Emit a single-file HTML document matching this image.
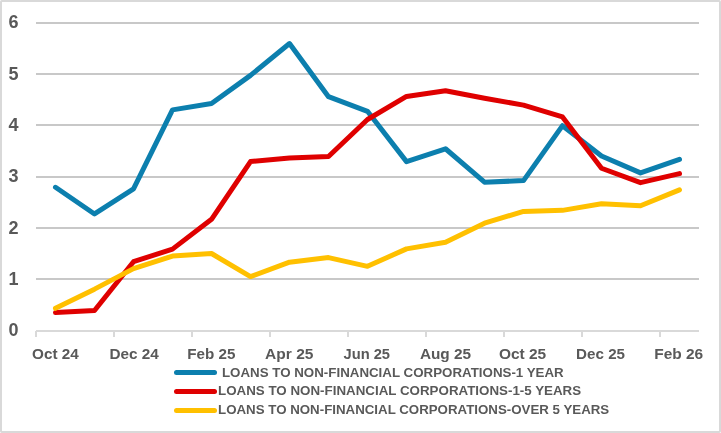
<!DOCTYPE html>
<html><head><meta charset="utf-8"><title>Loans to non-financial corporations</title>
<style>
html,body{margin:0;padding:0;background:#fff;}
body{width:721px;height:433px;overflow:hidden;}
svg{display:block;will-change:transform;}
text{font-family:"Liberation Sans",Arial,sans-serif;font-weight:bold;fill:#595959;}
.yl{font-size:18px;}
.xl{font-size:15.4px;}
.lg{font-size:12.6px;}
</style></head>
<body>
<svg width="721" height="433" viewBox="0 0 721 433">
<rect x="1" y="1" width="719" height="431" rx="0.8" fill="#fff" stroke="#d9d9d9" stroke-width="2"/>
<line x1="36.0" y1="279" x2="699.0" y2="279" stroke="#c8c8c8" stroke-width="2"/>
<line x1="36.0" y1="228" x2="699.0" y2="228" stroke="#c8c8c8" stroke-width="2"/>
<line x1="36.0" y1="177" x2="699.0" y2="177" stroke="#c8c8c8" stroke-width="2"/>
<line x1="36.0" y1="125" x2="699.0" y2="125" stroke="#c8c8c8" stroke-width="2"/>
<line x1="36.0" y1="74" x2="699.0" y2="74" stroke="#c8c8c8" stroke-width="2"/>
<line x1="36.0" y1="23" x2="699.0" y2="23" stroke="#c8c8c8" stroke-width="2"/>
<line x1="36.0" y1="331.0" x2="699.0" y2="331.0" stroke="#d9d9d9" stroke-width="2"/>
<line x1="36.00" y1="331.0" x2="36.00" y2="337.0" stroke="#d9d9d9" stroke-width="2"/>
<line x1="114.00" y1="331.0" x2="114.00" y2="337.0" stroke="#d9d9d9" stroke-width="2"/>
<line x1="192.00" y1="331.0" x2="192.00" y2="337.0" stroke="#d9d9d9" stroke-width="2"/>
<line x1="270.00" y1="331.0" x2="270.00" y2="337.0" stroke="#d9d9d9" stroke-width="2"/>
<line x1="348.00" y1="331.0" x2="348.00" y2="337.0" stroke="#d9d9d9" stroke-width="2"/>
<line x1="426.00" y1="331.0" x2="426.00" y2="337.0" stroke="#d9d9d9" stroke-width="2"/>
<line x1="504.00" y1="331.0" x2="504.00" y2="337.0" stroke="#d9d9d9" stroke-width="2"/>
<line x1="582.00" y1="331.0" x2="582.00" y2="337.0" stroke="#d9d9d9" stroke-width="2"/>
<line x1="660.00" y1="331.0" x2="660.00" y2="337.0" stroke="#d9d9d9" stroke-width="2"/>
<text id="y0" x="8.50" y="336.30" class="yl">0</text>
<text id="y1" x="8.50" y="284.97" class="yl">1</text>
<text id="y2" x="8.50" y="233.63" class="yl">2</text>
<text id="y3" x="8.50" y="182.30" class="yl">3</text>
<text id="y4" x="8.50" y="130.97" class="yl">4</text>
<text id="y5" x="8.50" y="79.63" class="yl">5</text>
<text id="y6" x="8.50" y="28.30" class="yl">6</text>
<text id="x0" x="32.10" y="358.90" class="xl" textLength="46.66" lengthAdjust="spacingAndGlyphs">Oct 24</text>
<text id="x1" x="109.50" y="358.90" class="xl" textLength="49.34" lengthAdjust="spacingAndGlyphs">Dec 24</text>
<text id="x2" x="187.31" y="358.90" class="xl" textLength="48.16" lengthAdjust="spacingAndGlyphs">Feb 25</text>
<text id="x3" x="265.10" y="358.90" class="xl" textLength="48.31" lengthAdjust="spacingAndGlyphs">Apr 25</text>
<text id="x4" x="343.52" y="358.90" class="xl" textLength="46.53" lengthAdjust="spacingAndGlyphs">Jun 25</text>
<text id="x5" x="419.90" y="358.90" class="xl" textLength="51.21" lengthAdjust="spacingAndGlyphs">Aug 25</text>
<text id="x6" x="498.90" y="358.90" class="xl" textLength="47.27" lengthAdjust="spacingAndGlyphs">Oct 25</text>
<text id="x7" x="576.11" y="358.90" class="xl" textLength="48.93" lengthAdjust="spacingAndGlyphs">Dec 25</text>
<text id="x8" x="654.20" y="358.90" class="xl" textLength="48.97" lengthAdjust="spacingAndGlyphs">Feb 26</text>
<polyline points="55.50,187.27 94.50,213.96 133.50,188.81 172.50,109.86 211.50,103.49 250.50,75.36 289.50,43.53 328.50,96.66 367.50,111.29 406.50,161.60 445.50,148.77 484.50,182.13 523.50,180.59 562.50,125.67 601.50,155.95 640.50,172.89 679.50,159.39" fill="none" stroke="#0c7fae" stroke-width="5.0" stroke-linejoin="round" stroke-linecap="round"/>
<polyline points="55.50,312.52 94.50,310.47 133.50,261.70 172.50,249.12 211.50,219.35 250.50,161.60 289.50,158.01 328.50,156.47 367.50,119.51 406.50,96.41 445.50,90.76 484.50,98.20 523.50,105.13 562.50,116.94 601.50,168.27 640.50,182.65 679.50,173.61" fill="none" stroke="#df0000" stroke-width="5.0" stroke-linejoin="round" stroke-linecap="round"/>
<polyline points="55.50,308.31 94.50,289.16 133.50,268.63 172.50,256.05 211.50,253.49 250.50,276.59 289.50,262.21 328.50,257.59 367.50,266.32 406.50,248.87 445.50,242.19 484.50,223.20 523.50,211.39 562.50,210.37 601.50,203.69 640.50,205.75 679.50,189.83" fill="none" stroke="#ffc000" stroke-width="5.0" stroke-linejoin="round" stroke-linecap="round"/>
<line x1="176.5" y1="372.5" x2="214.5" y2="372.5" stroke="#0c7fae" stroke-width="5" stroke-linecap="round"/>
<text id="l0" x="221.94" y="376.70" class="lg" textLength="341.79" lengthAdjust="spacingAndGlyphs">LOANS TO NON-FINANCIAL CORPORATIONS-1 YEAR</text>
<line x1="176.5" y1="391.5" x2="214.5" y2="391.5" stroke="#df0000" stroke-width="5" stroke-linecap="round"/>
<text id="l1" x="218.04" y="395.30" class="lg" textLength="363.12" lengthAdjust="spacingAndGlyphs">LOANS TO NON-FINANCIAL CORPORATIONS-1-5 YEARS</text>
<line x1="176.5" y1="410.5" x2="214.5" y2="410.5" stroke="#ffc000" stroke-width="5" stroke-linecap="round"/>
<text id="l2" x="218.04" y="414.00" class="lg" textLength="391.22" lengthAdjust="spacingAndGlyphs">LOANS TO NON-FINANCIAL CORPORATIONS-OVER 5 YEARS</text>
</svg>
</body></html>
